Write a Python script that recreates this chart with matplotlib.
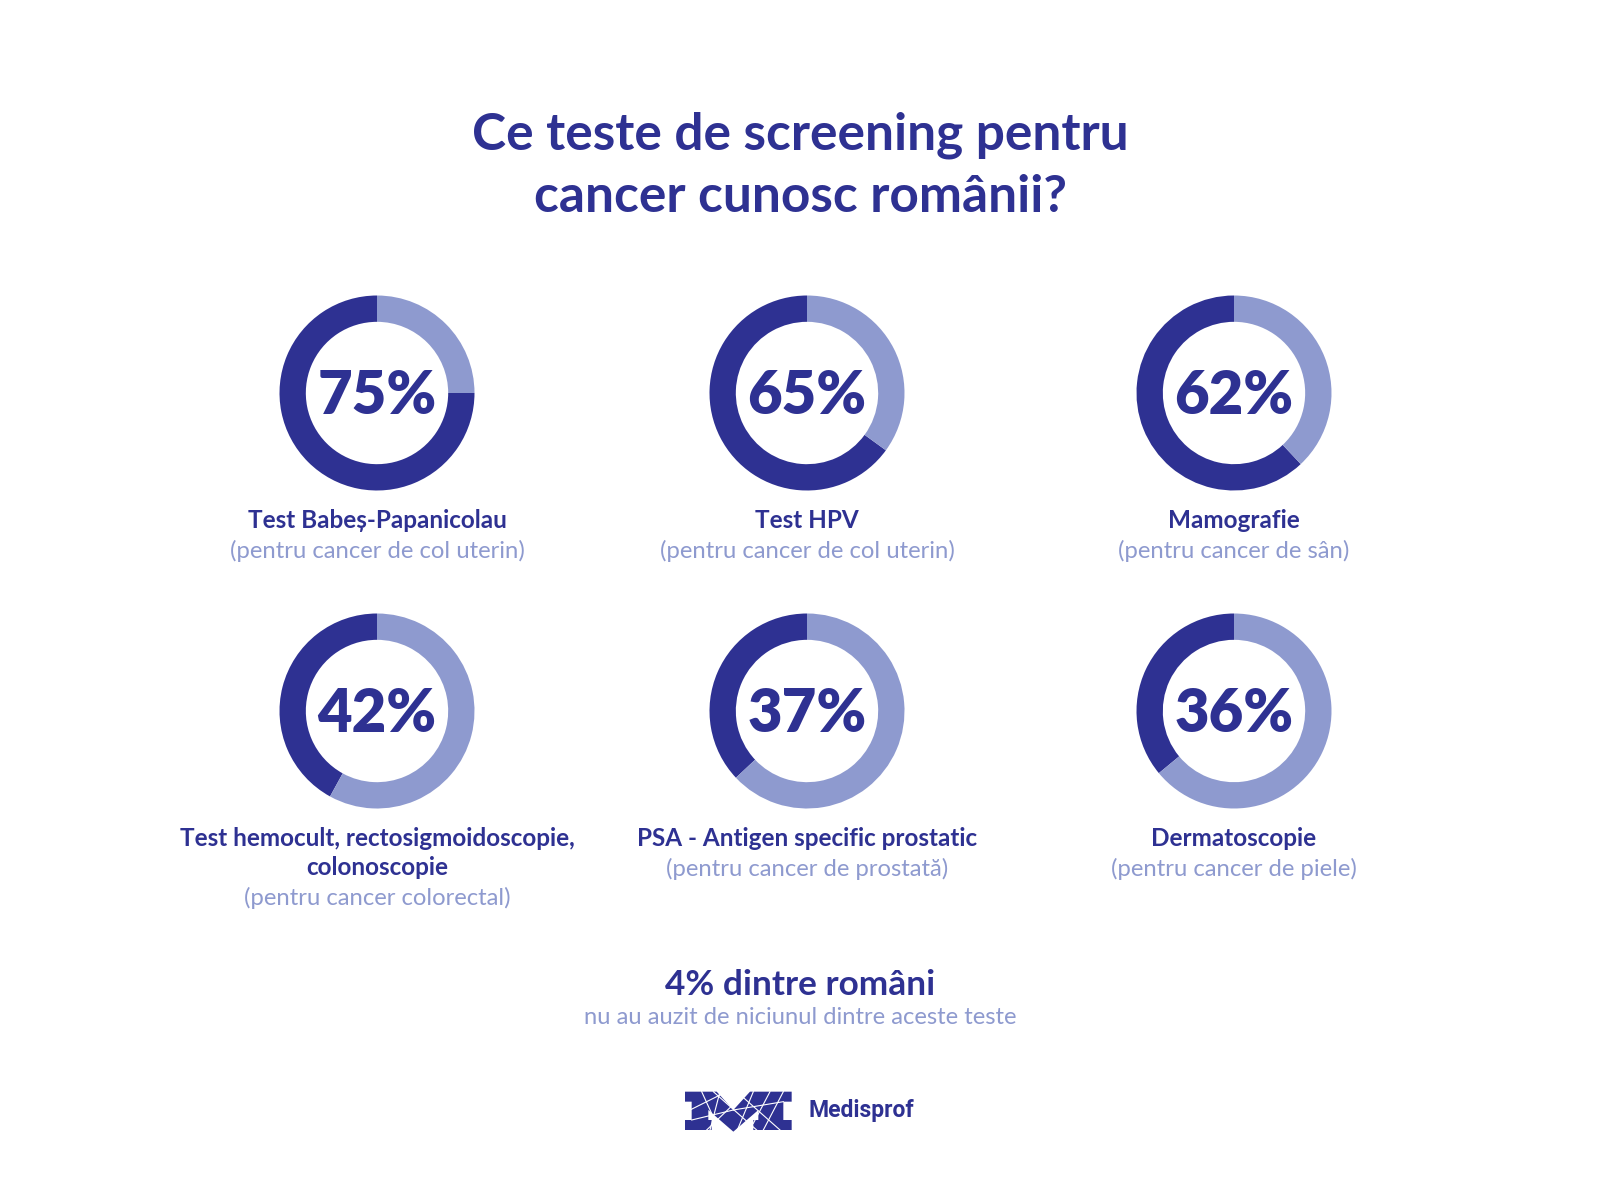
import numpy as np
import matplotlib
matplotlib.use("Agg")
import matplotlib.pyplot as plt
from matplotlib.patches import Polygon

plt.rcParams['font.family'] = ['Lato', 'DejaVu Sans']

# date
percents = [75, 65, 62, 42, 37, 36]
labels = ["Test Babeș-Papanicolau", "Test HPV", "Mamografie",
          "Test hemocult, rectosigmoidoscopie,\ncolonoscopie",
          "PSA - Antigen specific prostatic", "Dermatoscopie"]
sublabels = ["(pentru cancer de col uterin)", "(pentru cancer de col uterin)",
             "(pentru cancer de sân)", "(pentru cancer colorectal)",
             "(pentru cancer de prostată)", "(pentru cancer de piele)"]
none_pct = 4

DARK = "#2E3192"
LIGHT = "#8E9ACF"
W, H = 1601, 1201

fig = plt.figure(figsize=(W / 100, H / 100), dpi=100)
fig.patch.set_facecolor("white")

def ftext(x, y, s, **kw):
    fig.text(x / W, 1 - y / H, s, ha="center", va="center", **kw)

# titlu
ftext(800, 135, "Ce teste de screening pentru", fontsize=37, fontweight="bold", color=DARK)
ftext(800, 198, "cancer cunosc românii?", fontsize=37, fontweight="bold", color=DARK)

col_x = [377, 807, 1234]
row_y = [393, 711]
R = 97.5

for i, p in enumerate(percents):
    cx = col_x[i % 3]
    cy = row_y[i // 3]
    ax = fig.add_axes([(cx - R) / W, 1 - (cy + R) / H, 2 * R / W, 2 * R / H])
    ax.pie([p, 100 - p], colors=[DARK, LIGHT], startangle=90, counterclock=True,
           radius=1, wedgeprops=dict(width=0.27, linewidth=0))
    ax.set_xlim(-1, 1)
    ax.set_ylim(-1, 1)
    ax.set_aspect("equal")
    ax.axis("off")
    ax.text(0, -0.04, f"{p}%", ha="center", va="center", fontsize=43,
            fontweight="heavy", color=DARK)

    # etichete
    lines = labels[i].split("\n")
    y0 = cy + 127
    for j, ln in enumerate(lines):
        ftext(cx, y0 + j * 29.5, ln, fontsize=17.5, fontweight="bold", color=DARK)
    ftext(cx, y0 + len(lines) * 29.5 + 1, sublabels[i], fontsize=17.2, color=LIGHT)

ftext(800, 985, f"{none_pct}% dintre români", fontsize=25.4, fontweight="bold", color=DARK)
ftext(800, 1018, "nu au auzit de niciunul dintre aceste teste", fontsize=17.1, color=LIGHT)

# logo
lax = fig.add_axes([0, 0, 1, 1], zorder=-1)
lax.set_xlim(0, W)
lax.set_ylim(H, 0)
lax.axis("off")
pts = [(45, 65), (140, 65), (190, 120), (240, 65), (365, 65), (365, 95), (340, 95),
       (340, 150), (365, 150), (365, 180), (250, 180), (250, 150), (265, 150),
       (265, 120), (190, 185), (115, 120), (115, 150), (125, 150), (125, 180),
       (45, 180), (45, 150), (65, 150), (65, 95), (45, 95)]
pts = [(670 + x / 3, 1070 + y / 3) for x, y in pts]
lax.add_patch(Polygon(pts, closed=True, facecolor=DARK, edgecolor="none"))
segs = [((95, 65), (150, 185)), ((60, 120), (170, 65)), ((110, 180), (230, 65)),
        ((130, 65), (260, 180)), ((200, 65), (330, 180)), ((250, 65), (200, 185)),
        ((300, 65), (250, 160)), ((340, 65), (280, 180)), ((65, 150), (190, 120)),
        ((190, 120), (340, 95)), ((150, 65), (120, 180))]
for (x1, y1), (x2, y2) in segs:
    lax.plot([670 + x1 / 3, 670 + x2 / 3], [1070 + y1 / 3, 1070 + y2 / 3],
             color="white", lw=0.8)
fig.text(808 / W, 1 - 1111 / H, "Medisprof", ha="left", va="center", fontsize=16.5,
         fontweight="bold", color=DARK, family=["Roboto", "DejaVu Sans"])

fig.savefig("out.png", dpi=100, facecolor="white")
